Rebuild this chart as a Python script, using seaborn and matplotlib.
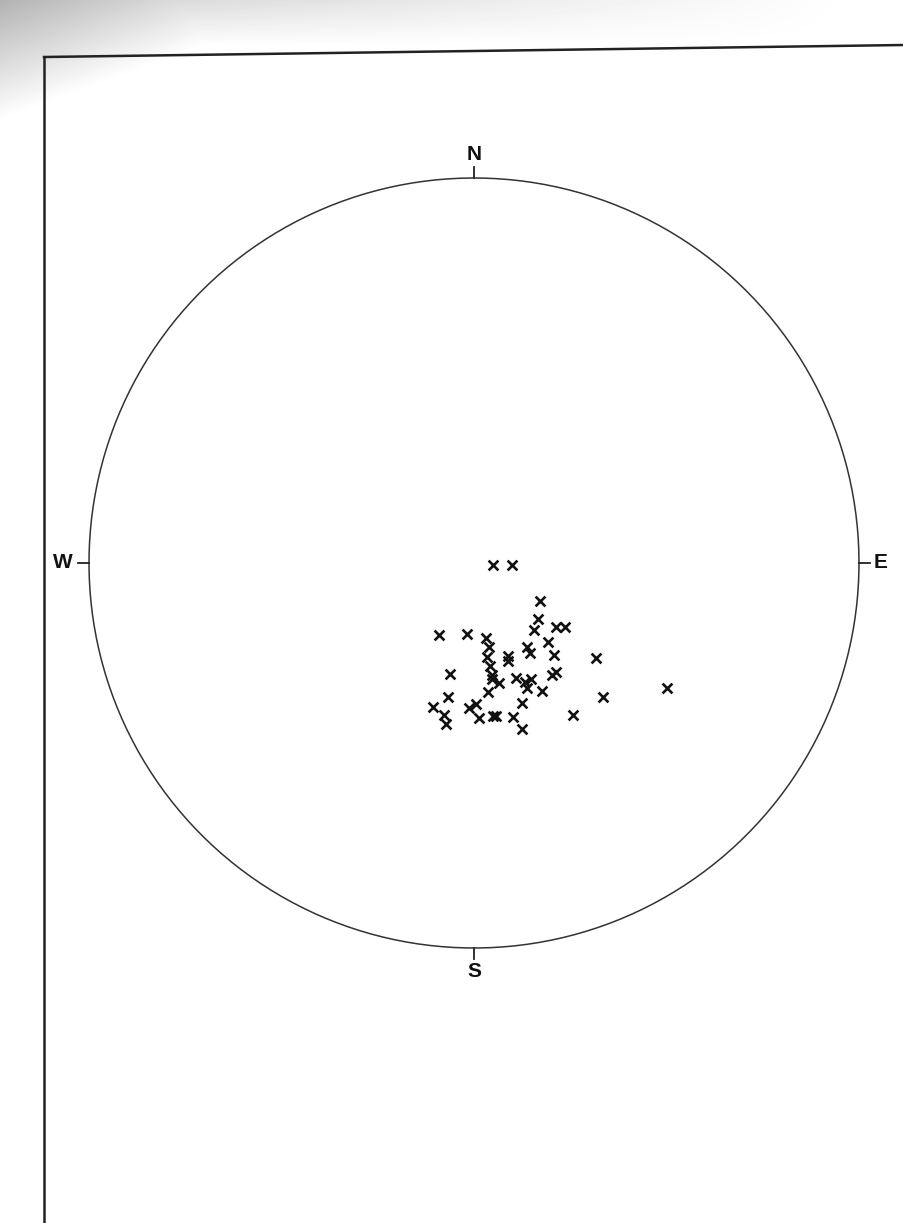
import numpy as np
import pandas as pd
import seaborn as sns
import matplotlib.pyplot as plt
from matplotlib.lines import Line2D

# poles: trend (deg from N, clockwise) and plunge (deg)
trend = [96, 93, 120, 131, 138, 128, 125, 137, 206, 186, 171, 170, 148, 148,
         160, 161, 139, 128, 172, 171, 143, 145, 192, 171, 171, 168, 160, 157,
         154, 157, 152, 174, 179, 182, 191, 196, 191, 190, 161, 178, 173, 172,
         166, 164, 136, 123, 147]
plunge = [86, 82, 74, 72, 71, 68, 66.5, 67, 73, 75, 74, 72, 69, 67.5,
          69, 68, 64, 57, 70, 68, 61, 61, 66, 66, 65, 64, 64, 62.5,
          62.5, 61, 59, 62.5, 60, 59, 61, 58, 57, 55, 58.5, 57, 57, 57,
          56, 53, 50, 40, 51]
compass = ["N", "E", "S", "W"]

# equal-area (Schmidt) lower hemisphere projection
t = np.radians(trend)
rho = np.sqrt(2) * np.sin(np.radians(90 - np.array(plunge)) / 2)
df = pd.DataFrame({"x": rho * np.sin(t), "y": rho * np.cos(t)})

W, H = 904, 1223
fig = plt.figure(figsize=(W / 100, H / 100), dpi=100, facecolor="white")

# faint scan shading in the upper left corner
bg = fig.add_axes([0, 0, 1, 1])
yy, xx = np.mgrid[0:H, 0:W]
shade = np.clip(1 - (xx / 330.0 + yy / 120.0), 0, 1) * 0.3
top = np.clip(1 - yy / 45.0, 0, 1) * np.clip(1 - xx / 850.0, 0, 1) * 0.18
bg.imshow(1 - np.maximum(shade, top), cmap="gray", vmin=0, vmax=1,
          extent=[0, W, H, 0], aspect="auto")
bg.set_xlim(0, W)
bg.set_ylim(H, 0)
bg.axis("off")
# page frame
bg.add_line(Line2D([44, 904], [57, 45], color="#222222", lw=1.8))
bg.add_line(Line2D([44, 44], [57, H], color="#222222", lw=1.8))

# stereonet axes: unit circle mapped onto the drawn net
cx, cy, R = 474, 563, 385
ax = fig.add_axes([(cx - R) / W, (H - cy - R) / H, 2 * R / W, 2 * R / H])
ax.set_xlim(-1, 1)
ax.set_ylim(-1, 1)
ax.axis("off")

a = np.linspace(0, 2 * np.pi, 400)
ax.plot(np.cos(a), np.sin(a), color="#333333", lw=1.1, clip_on=False)

ticks = {"N": (0, 1), "E": (1, 0), "S": (0, -1), "W": (-1, 0)}
offsets = {"N": 1.06, "S": 1.06, "E": 1.055, "W": 1.068}
for lab in compass:
    ux, uy = ticks[lab]
    ax.plot([ux, ux * 1.028], [uy, uy * 1.028], color="#222222", lw=1.3,
            clip_on=False)
    off = offsets[lab]
    ax.text(ux * off, uy * off, lab, ha="center", va="center",
            fontsize=15, fontweight="bold", family="Liberation Sans",
            color="#111111")

sns.scatterplot(data=df, x="x", y="y", ax=ax, marker="x", color="#111111",
                s=50, linewidth=1.9, legend=False, clip_on=False)
ax.set_xlabel("")
ax.set_ylabel("")

fig.savefig("out.png", dpi=100, facecolor="white")
